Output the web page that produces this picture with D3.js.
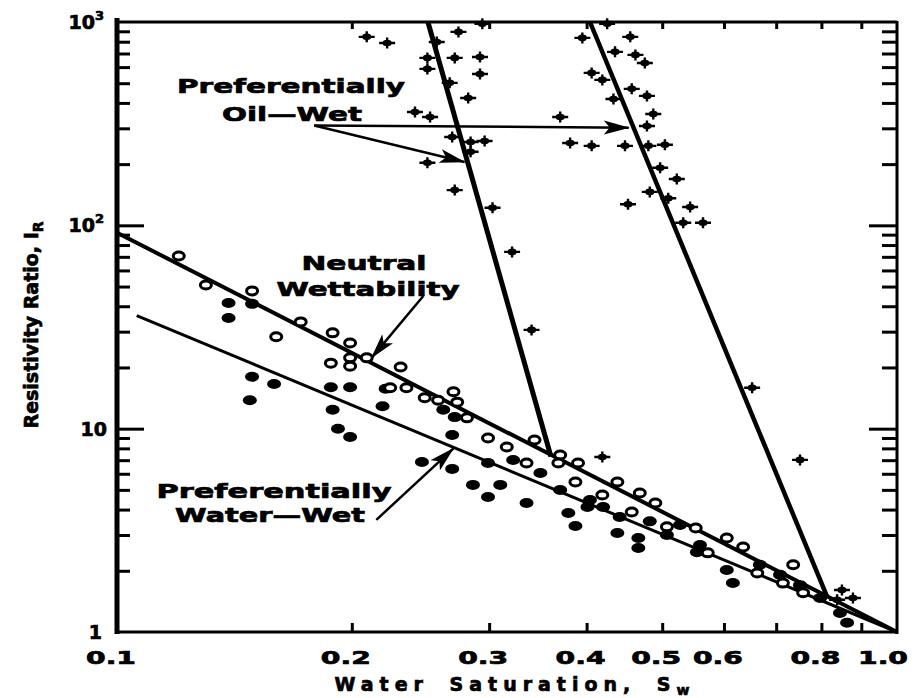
<!DOCTYPE html>
<html>
<head>
<meta charset="utf-8">
<script src="https://cdn.jsdelivr.net/npm/d3@7"></script>
<style>
  body { margin: 0; background: #fff; }
  svg text { font-family: "DejaVu Sans", Arial, sans-serif; font-weight: bold; fill: #000; stroke: #000; stroke-width: 0.7; }
</style>
</head>
<body>
<svg id="chart" width="919" height="698"></svg>
<script>

// points as [Sw, I_R]
var oilWetPoints = [
  [0.294, 979], [0.274, 894], [0.209, 845], [0.222, 789], [0.271, 666], [0.292, 673],
  [0.292, 555], [0.257, 798], [0.250, 666], [0.250, 588], [0.267, 502], [0.282, 423],
  [0.241, 361], [0.252, 341], [0.370, 341], [0.381, 254], [0.269, 272], [0.284, 257],
  [0.296, 260], [0.284, 230], [0.250, 203], [0.271, 149], [0.303, 122], [0.321, 74],
  [0.340, 30.6],
  [0.425, 979], [0.395, 835], [0.455, 845], [0.435, 713], [0.462, 689], [0.475, 629],
  [0.406, 562], [0.419, 519], [0.457, 469], [0.433, 418], [0.478, 433], [0.487, 353],
  [0.478, 308], [0.406, 246], [0.448, 246], [0.480, 246], [0.504, 249], [0.497, 192],
  [0.522, 169], [0.482, 146], [0.452, 127], [0.509, 136], [0.543, 123], [0.532, 103],
  [0.564, 103],
  [0.652, 15.9], [0.419, 7.26], [0.751, 7.02], [0.850, 1.61], [0.878, 1.47], [0.838, 1.44]
];

var neutralPoints = [
  [0.120, 70.7], [0.130, 50.9], [0.149, 47.6], [0.172, 33.5], [0.160, 28.3], [0.189, 29.6],
  [0.199, 26.4], [0.188, 21.0], [0.199, 22.3], [0.199, 20.3], [0.209, 22.3], [0.231, 20.1],
  [0.224, 15.9], [0.235, 15.9], [0.270, 15.2], [0.248, 14.2], [0.258, 13.8], [0.273, 13.5],
  [0.281, 11.3], [0.299, 9.0], [0.316, 8.13], [0.335, 6.78], [0.343, 8.8], [0.370, 7.42],
  [0.368, 6.78], [0.390, 6.78], [0.387, 5.47], [0.438, 5.47], [0.419, 4.72], [0.468, 4.83],
  [0.490, 4.31], [0.457, 3.89], [0.507, 3.29], [0.552, 3.25], [0.605, 2.90], [0.635, 2.62],
  [0.572, 2.45], [0.736, 2.14], [0.662, 1.95], [0.714, 1.74], [0.758, 1.56]
];

var waterWetPoints = [
  [0.139, 41.5], [0.149, 41.1], [0.139, 35.0], [0.149, 18.0], [0.159, 16.6], [0.148, 13.8],
  [0.188, 16.0], [0.199, 16.0], [0.189, 12.4], [0.192, 10.0], [0.199, 9.1], [0.219, 12.9],
  [0.221, 15.7], [0.262, 12.4], [0.271, 11.4], [0.269, 9.31], [0.246, 6.86], [0.269, 6.34],
  [0.286, 5.29], [0.310, 5.29], [0.299, 4.61], [0.335, 4.31], [0.299, 6.78], [0.322, 7.02],
  [0.349, 6.05], [0.379, 3.85], [0.387, 3.32], [0.401, 4.12], [0.420, 4.12], [0.441, 3.68],
  [0.438, 3.07], [0.466, 2.90], [0.466, 2.59], [0.507, 3.00], [0.527, 3.36], [0.554, 2.47],
  [0.605, 2.02], [0.616, 1.74], [0.845, 1.24], [0.863, 1.11],
  [0.370, 4.99], [0.404, 4.46], [0.482, 3.5], [0.559, 2.68], [0.667, 2.14], [0.708, 1.91],
  [0.751, 1.70], [0.797, 1.47]
];

// fitted lines
var oilWetLineA = [[0.2504, 1000], [0.36, 7.3]];
var oilWetLineB = [[0.404, 1000], [0.813, 1.5]];
var neutralLine = [[0.1, 92], [1.0, 1]];
var waterWetLine = [[0.106, 36], [1.0, 1]];

// annotation arrows, [from, to]
var oilArrows = [[[0.179, 310], [0.279, 205]], [[0.179, 310], [0.453, 302]]];
var neutralArrow = [[0.247, 44.9], [0.212, 22.3]];
var waterArrow = [[0.215, 3.56], [0.270, 8.0]];

// axes
var xTickValues = [0.1, 0.2, 0.3, 0.4, 0.5, 0.6, 0.8, 1.0];
var xTickLabels = ["0.1", "0.2", "0.3", "0.4", "0.5", "0.6", "0.8", "1.0"];
var xMinorTicks = [0.2, 0.3, 0.4, 0.5, 0.6, 0.7, 0.8, 0.9];
var yTickValues = [1, 10, 100, 1000];
var yTickLabels = [["1", ""], ["10", ""], ["10", "2"], ["10", "3"]];
var yMajorTicks = [10, 100];

var svg = d3.select("#chart");

var x = d3.scaleLog().domain([0.1, 1]).range([117, 897]);
var y = d3.scaleLog().domain([1, 1000]).range([632, 22]);

var yMinorTicks = [];
[1, 10, 100].forEach(function (d) {
    for (var k = 2; k <= 9; k++) yMinorTicks.push(d * k);
});

// arrowhead
svg.append("defs").append("marker")
    .attr("id", "head")
    .attr("markerUnits", "userSpaceOnUse")
    .attr("viewBox", "0 0 26 16")
    .attr("markerWidth", 26)
    .attr("markerHeight", 16)
    .attr("refX", 25)
    .attr("refY", 8)
    .attr("orient", "auto")
    .append("path")
    .attr("d", "M0,1 L26,8 L0,15 L6,8 Z")
    .attr("fill", "#000");

// ticks (inward) on all four sides
function tickAxis(axis, vals, size, tx, ty) {
    var g = svg.append("g")
        .attr("transform", "translate(" + tx + "," + ty + ")")
        .call(axis.tickValues(vals).tickSize(size).tickFormat(""));
    g.select(".domain").remove();
    g.selectAll(".tick line").attr("stroke", "#000").attr("stroke-width", 3);
    return g;
}
tickAxis(d3.axisLeft(y), yMinorTicks, -13, 117, 0);
tickAxis(d3.axisLeft(y), yMajorTicks, -27, 117, 0);
tickAxis(d3.axisRight(y), yMinorTicks, -15, 897, 0);
tickAxis(d3.axisRight(y), yMajorTicks, -28, 897, 0);
tickAxis(d3.axisBottom(x), xMinorTicks, -9, 0, 632);
tickAxis(d3.axisTop(x), xMinorTicks, -7, 0, 22);

// frame
svg.append("line").attr("x1", 117).attr("x2", 897).attr("y1", 22).attr("y2", 22)
    .attr("stroke", "#000").attr("stroke-width", 3);
svg.append("line").attr("x1", 117).attr("x2", 898).attr("y1", 632).attr("y2", 632)
    .attr("stroke", "#000").attr("stroke-width", 3);
svg.append("line").attr("x1", 117).attr("x2", 117).attr("y1", 18).attr("y2", 634)
    .attr("stroke", "#000").attr("stroke-width", 5);
svg.append("line").attr("x1", 897).attr("x2", 897).attr("y1", 21).attr("y2", 634)
    .attr("stroke", "#000").attr("stroke-width", 3);

// tick labels
svg.selectAll(".xlab").data(xTickValues).enter().append("text")
    .attr("class", "xlab")
    .attr("x", function (d, i) { return i === xTickValues.length - 1 ? x(d) + 11 : x(d) - 6; })
    .attr("y", 664)
    .attr("text-anchor", function (d, i) { return i === xTickValues.length - 1 ? "end" : "middle"; })
    .attr("font-size", 18)
    .attr("textLength", 50)
    .attr("lengthAdjust", "spacingAndGlyphs")
    .text(function (d, i) { return xTickLabels[i]; });

var ylab = svg.selectAll(".ylab").data(yTickValues).enter().append("text")
    .attr("class", "ylab")
    .attr("x", function (d, i) { return yTickLabels[i][1] ? 104 : (d === 1 ? 102 : 107); })
    .attr("y", function (d) { return y(d) + 7; })
    .attr("text-anchor", "end")
    .attr("font-size", 19);
ylab.append("tspan").text(function (d, i) { return yTickLabels[i][0]; });
ylab.append("tspan")
    .attr("font-size", 13)
    .attr("dy", -9)
    .text(function (d, i) { return yTickLabels[i][1]; });

// axis titles
var xt = svg.append("text")
    .attr("x", 515).attr("y", 691)
    .attr("text-anchor", "middle")
    .attr("font-size", 19)
    .attr("letter-spacing", 6)
    .attr("word-spacing", 8);
xt.append("tspan").text("Water Saturation, S");
xt.append("tspan").attr("font-size", 14).attr("dy", 4).text("w");

var yt = svg.append("text")
    .attr("transform", "translate(38,325) rotate(-90)")
    .attr("text-anchor", "middle")
    .attr("font-size", 19);
yt.append("tspan").text("Resistivity Ratio, I");
yt.append("tspan").attr("font-size", 14).attr("dy", 5).text("R");

// lines
var line = d3.line().x(function (d) { return x(d[0]); }).y(function (d) { return y(d[1]); });

svg.append("path").datum(neutralLine).attr("d", line)
    .attr("fill", "none").attr("stroke", "#000").attr("stroke-width", 4);
svg.append("path").datum(waterWetLine).attr("d", line)
    .attr("fill", "none").attr("stroke", "#000").attr("stroke-width", 3);
svg.append("path").datum(oilWetLineA).attr("d", line)
    .attr("fill", "none").attr("stroke", "#000").attr("stroke-width", 5);
svg.append("path").datum(oilWetLineB).attr("d", line)
    .attr("fill", "none").attr("stroke", "#000").attr("stroke-width", 4.5);

// points
svg.append("g").selectAll("g").data(oilWetPoints).enter().append("g")
    .attr("transform", function (d) { return "translate(" + x(d[0]) + "," + y(d[1]) + ")"; })
    .each(function () {
        var g = d3.select(this);
        g.append("path").attr("d", "M-8,0H8M0,-5.5V5.5")
            .attr("stroke", "#000").attr("stroke-width", 2.4);
        g.append("ellipse").attr("rx", 4.5).attr("ry", 3.3).attr("fill", "#000");
    });

svg.append("g").selectAll("ellipse").data(waterWetPoints).enter().append("ellipse")
    .attr("cx", function (d) { return x(d[0]); })
    .attr("cy", function (d) { return y(d[1]); })
    .attr("rx", 7).attr("ry", 5)
    .attr("fill", "#000");

svg.append("g").selectAll("ellipse").data(neutralPoints).enter().append("ellipse")
    .attr("cx", function (d) { return x(d[0]); })
    .attr("cy", function (d) { return y(d[1]); })
    .attr("rx", 5.5).attr("ry", 4)
    .attr("fill", "#fff")
    .attr("stroke", "#000")
    .attr("stroke-width", 3);

// arrows
oilArrows.concat([neutralArrow, waterArrow]).forEach(function (a) {
    svg.append("path").datum(a).attr("d", line)
        .attr("fill", "none").attr("stroke", "#000").attr("stroke-width", 2.5)
        .attr("marker-end", "url(#head)");
});

// annotation labels
function label(txt, cx, by, len) {
    svg.append("text")
        .attr("x", cx).attr("y", by)
        .attr("text-anchor", "middle")
        .attr("font-size", 20)
        .attr("textLength", len)
        .attr("lengthAdjust", "spacingAndGlyphs")
        .text(txt);
}
label("Preferentially", 291, 93, 228);
label("Oil\u2014Wet", 292, 121, 140);
label("Neutral", 364, 270, 125);
label("Wettability", 368, 296, 183);
label("Preferentially", 274, 498, 235);
label("Water\u2014Wet", 270, 522, 190);

</script>
</body>
</html>
